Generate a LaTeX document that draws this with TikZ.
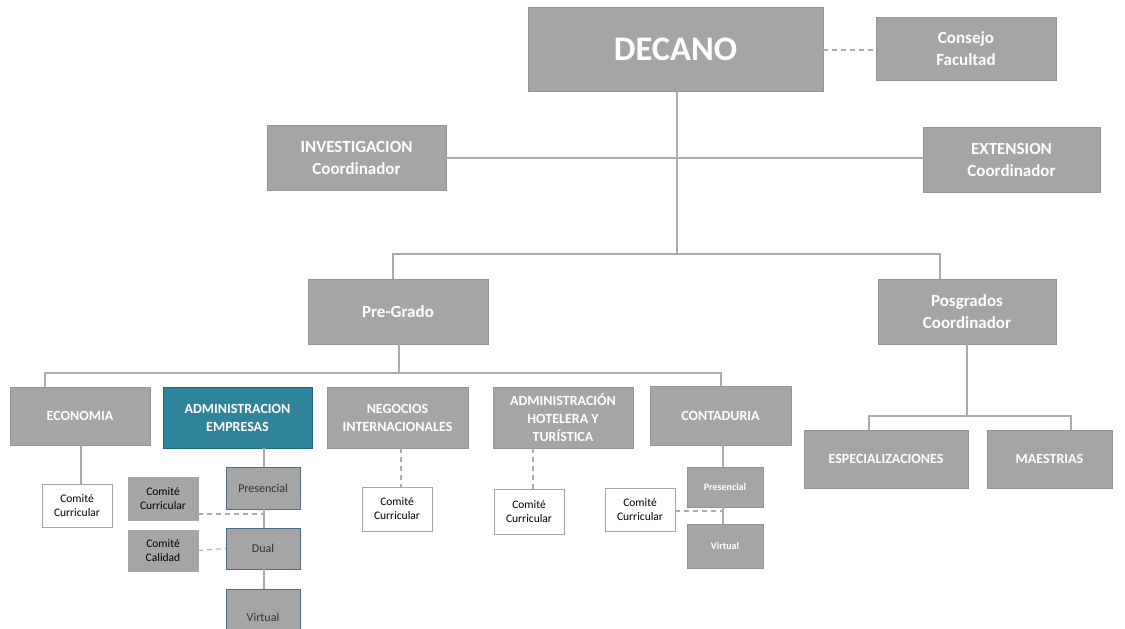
\documentclass[tikz,border=0pt]{standalone}
\usepackage{fontspec}
\setmainfont{Carlito}
\usetikzlibrary{calc}
\definecolor{boxgray}{HTML}{A5A5A5}
\definecolor{linegray}{HTML}{ABABAB}
\definecolor{tealfill}{HTML}{2F839A}
\definecolor{subborder}{HTML}{4E6A86}
\tikzset{
  box/.style={fill=boxgray, draw=boxgray!90!black, line width=0.4pt, inner sep=0pt, outer sep=0pt, align=center, text=white, font=\bfseries},
  lvlA/.style={box, font=\fontsize{17}{22}\selectfont\bfseries},
  lvlB/.style={box, font=\fontsize{14}{18}\selectfont\bfseries},
  tealbox/.style={lvlB, fill=tealfill, draw=tealfill!80!black},
  comite/.style={draw=boxgray, fill=white, line width=0.8pt, inner sep=0pt, outer sep=0pt, align=center, text=black, font=\fontsize{11.5}{14}\selectfont},
  comitegray/.style={comite, fill=boxgray, draw=boxgray},
  modal/.style={fill=boxgray, draw=subborder, line width=0.6pt, inner sep=0pt, outer sep=0pt, align=center, text=black!80, font=\fontsize{12}{14}\selectfont},
  modalw/.style={box, font=\fontsize{10}{12}\selectfont\bfseries},
  conn/.style={draw=linegray, line width=1.3pt},
  dconn/.style={draw=linegray, line width=1.1pt, dash pattern=on 5pt off 4pt},
}
\begin{document}
\begin{tikzpicture}[x=1pt,y=-1pt]
\useasboundingbox (0,0) rectangle (1125,629);
\clip (0,0) rectangle (1125,629);
% top
\node[box, font=\fontsize{34.5}{38}\selectfont\bfseries, minimum width=295, minimum height=84] (decano) at (675.5,49) {DECANO};
\node[lvlA, minimum width=180, minimum height=63] (consejo) at (966,48.5) {Consejo\\Facultad};
\node[lvlA, minimum width=179, minimum height=65] (invest) at (356.5,157.5) {INVESTIGACION\\Coordinador};
\node[lvlA, minimum width=177, minimum height=65] (ext) at (1011.5,159.5) {EXTENSION\\Coordinador};
\node[lvlA, minimum width=180, minimum height=65] (pregrado) at (398,311.5) {Pre-Grado};
\node[lvlA, minimum width=178, minimum height=65] (posgrados) at (967,311.5) {Posgrados\\Coordinador};
% programs
\node[lvlB, minimum width=140, minimum height=58] (economia) at (80,416) {ECONOMIA};
\node[tealbox, minimum width=149, minimum height=61] (adminemp) at (237.5,417.5) {ADMINISTRACION\\EMPRESAS};
\node[lvlB, minimum width=141, minimum height=61] (negocios) at (397.5,417.5) {NEGOCIOS\\INTERNACIONALES};
\node[lvlB, minimum width=140, minimum height=61] (hotelera) at (563,417.5) {ADMINISTRACIÓN\\HOTELERA Y\\TURÍSTICA};
\node[lvlB, minimum width=141, minimum height=59] (contaduria) at (720.5,415.5) {CONTADURIA};
\node[lvlB, minimum width=164, minimum height=58] (especial) at (886,459) {ESPECIALIZACIONES};
\node[lvlB, minimum width=125, minimum height=58] (maestrias) at (1049.5,459) {MAESTRIAS};
% committees and modalities
\node[comite, minimum width=70, minimum height=43] (cceco) at (77,505.5) {Comité\\Curricular};
\node[comitegray, minimum width=70, minimum height=43] (ccadm) at (163,498.5) {Comité\\Curricular};
\node[comitegray, minimum width=70, minimum height=41] (ccal) at (163,550.5) {Comité\\Calidad};
\node[modal, minimum width=74, minimum height=42] (presadm) at (263,488) {Presencial};
\node[modal, minimum width=74, minimum height=41] (dualadm) at (263,548.5) {Dual};
\node[modal, minimum width=74, minimum height=56] (virtadm) at (263,617) {Virtual};
\node[comite, minimum width=70, minimum height=44] (ccneg) at (397,509) {Comité\\Curricular};
\node[comite, minimum width=70, minimum height=45] (cchot) at (529,511.5) {Comité\\Curricular};
\node[comite, minimum width=70, minimum height=43] (cccon) at (640,509.5) {Comité\\Curricular};
\node[modalw, minimum width=76, minimum height=40] (prescon) at (725,487) {Presencial};
\node[modalw, minimum width=76, minimum height=44] (virtcon) at (725,546) {Virtual};
% junction coordinates
\coordinate (jA) at (677,254);
\coordinate (jL) at (393,254);
\coordinate (jR) at (940,254);
\coordinate (jB) at (399,373);
\coordinate (jBL) at (45,373);
\coordinate (jBR) at (721,373);
\coordinate (jP) at (967,416);
\coordinate (jPL) at (869,416);
\coordinate (jPR) at (1071,416);
\coordinate (dA) at (264,514);
\coordinate (dC) at (723,511);
% connectors
\draw[dconn] (decano.east |- 0,50) -- (consejo.west |- 0,50);
\draw[conn] (decano.south -| jA) -- (jA);
\draw[conn] (invest.east |- 0,158) -- (ext.west |- 0,158);
\draw[conn] (pregrado.north -| jL) -- (jL) -- (jR) -- (posgrados.north -| jR);
\draw[conn] (pregrado.south -| jB) -- (jB);
\draw[conn] (economia.north -| jBL) -- (jBL) -- (jBR) -- (contaduria.north -| jBR);
\draw[conn] (posgrados.south -| jP) -- (jP);
\draw[conn] (especial.north -| jPL) -- (jPL) -- (jPR) -- (maestrias.north -| jPR);
\draw[conn] (economia.south -| 81,0) -- (cceco.north -| 81,0);
\draw[conn] (adminemp.south -| dA) -- (presadm.north -| dA);
\draw[conn] (presadm.south -| dA) -- (dualadm.north -| dA);
\draw[conn] (dualadm.south -| dA) -- (virtadm.north -| dA);
\draw[dconn] (ccadm.east |- dA) -- (dA);
\draw[dconn] (ccal.east) -- (dualadm.west);
\draw[dconn] (negocios.south -| 401,0) -- (ccneg.north -| 401,0);
\draw[dconn] (hotelera.south -| 533,0) -- (cchot.north -| 533,0);
\draw[conn] (contaduria.south -| dC) -- (prescon.north -| dC);
\draw[conn] (prescon.south -| dC) -- (virtcon.north -| dC);
\draw[dconn] (cccon.east |- dC) -- (dC);
\end{tikzpicture}
\end{document}
